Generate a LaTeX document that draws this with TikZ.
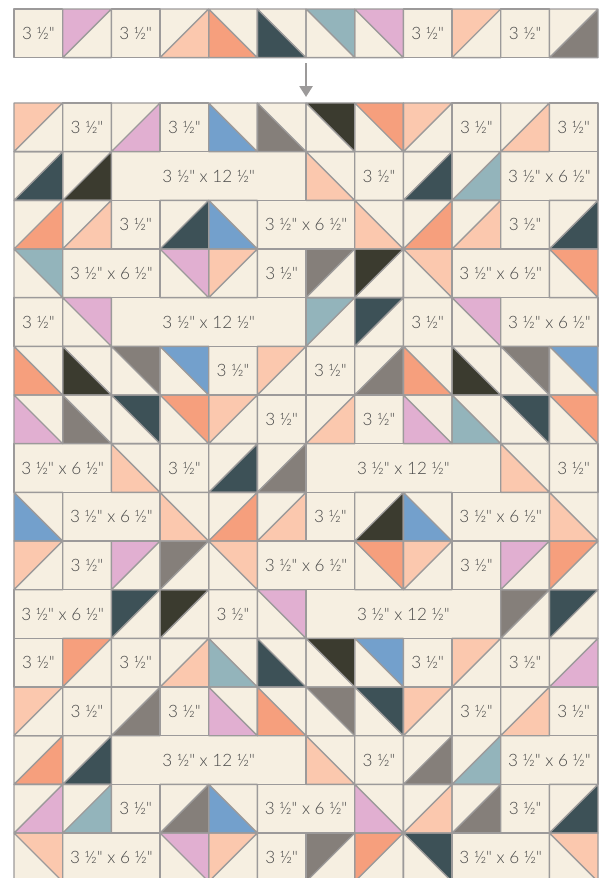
\documentclass[tikz,border=0pt]{standalone}
\usepackage{fontspec}
\newfontfamily\cutfont{Lato Light}
\usetikzlibrary{arrows.meta}

\definecolor{cream}{HTML}{F6EFE1}
\definecolor{peach}{HTML}{FBC8AE}
\definecolor{salmon}{HTML}{F69F7D}
\definecolor{pink}{HTML}{E1AFD1}
\definecolor{blue}{HTML}{73A0CC}
\definecolor{teal}{HTML}{93B4BB}
\definecolor{slate}{HTML}{3D5157}
\definecolor{olive}{HTML}{3B3B2F}
\definecolor{stone}{HTML}{857F7A}
\definecolor{seamgray}{HTML}{9C9A9A}
\definecolor{inkgray}{HTML}{4A4A4A}

\newcommand{\hstfills}[1]{%
  \foreach \cx/\ry/\k/\hue in #1 {
    \tikzset{corner \k}
    \fill[\hue] ({\cx+\qx},{\ry+\qy}) -- ({\cx+1-\qx},{\ry+\qy}) -- ({\cx+\qx},{\ry+1-\qy}) -- cycle;
  }}
\newcommand{\hstseams}[1]{%
  \foreach \cx/\ry/\k/\hue in #1 {
    \tikzset{corner \k}
    \draw[seam] (\cx,\ry) rectangle ++(1,1) ({\cx+1-\qx},{\ry+\qy}) -- ({\cx+\qx},{\ry+1-\qy});
  }}
\newcommand{\cutblocks}[4]{%
  \foreach \cx/\ry in #1 {
    \draw[seam] (\cx,\ry) rectangle ++(#2,1);
    \node[cutsize] (#4-\cx-\ry) at ({\cx+#2/2},{\ry+.5}) {#3};
  }}

\newcommand{\striptris}{1/0/tl/pink, 3/0/br/peach, 4/0/bl/salmon, 5/0/bl/slate, 6/0/tr/teal, 7/0/tr/pink, 9/0/tl/peach, 11/0/br/stone}
\newcommand{\stripone}{0/0, 2/0, 8/0, 10/0}

\newcommand{\gridtris}{%
  0/0/tl/peach, 2/0/br/pink, 4/0/bl/blue, 5/0/bl/stone, 6/0/tr/olive, 7/0/tr/salmon, 8/0/tl/peach, 10/0/br/peach,
  0/1/br/slate, 1/1/br/olive, 6/1/bl/peach, 8/1/br/slate, 9/1/br/teal,
  0/2/br/salmon, 1/2/br/peach, 3/2/br/slate, 4/2/bl/blue, 7/2/bl/peach, 8/2/br/salmon, 9/2/br/peach, 11/2/br/slate,
  0/3/tr/teal, 3/3/tr/pink, 4/3/tl/peach, 6/3/tl/stone, 7/3/tl/olive, 8/3/tr/peach, 11/3/tr/salmon,
  1/4/tr/pink, 6/4/tl/teal, 7/4/tl/slate, 9/4/tr/pink,
  0/5/bl/salmon, 1/5/bl/olive, 2/5/tr/stone, 3/5/tr/blue, 5/5/tl/peach, 7/5/br/stone, 8/5/bl/salmon, 9/5/bl/olive, 10/5/tr/stone, 11/5/tr/blue,
  0/6/bl/pink, 1/6/bl/stone, 2/6/tr/slate, 3/6/tr/salmon, 4/6/tl/peach, 6/6/br/peach, 8/6/bl/pink, 9/6/bl/teal, 10/6/tr/slate, 11/6/tr/salmon,
  2/7/bl/peach, 4/7/br/slate, 5/7/br/stone, 10/7/bl/peach,
  0/8/bl/blue, 3/8/bl/peach, 4/8/br/salmon, 5/8/br/peach, 7/8/br/olive, 8/8/bl/blue, 11/8/bl/peach,
  0/9/tl/peach, 2/9/tl/pink, 3/9/tl/stone, 4/9/tr/peach, 7/9/tr/salmon, 8/9/tl/peach, 10/9/tl/pink, 11/9/tl/salmon,
  2/10/tl/slate, 3/10/tl/olive, 5/10/tr/pink, 10/10/tl/stone, 11/10/tl/slate,
  1/11/tl/salmon, 3/11/br/peach, 4/11/bl/teal, 5/11/bl/slate, 6/11/tr/olive, 7/11/tr/blue, 9/11/tl/peach, 11/11/br/pink,
  0/12/tl/peach, 2/12/br/stone, 4/12/bl/pink, 5/12/bl/salmon, 6/12/tr/stone, 7/12/tr/slate, 8/12/tl/peach, 10/12/br/peach,
  0/13/br/salmon, 1/13/br/slate, 6/13/bl/peach, 8/13/br/stone, 9/13/br/teal,
  0/14/br/pink, 1/14/br/teal, 3/14/br/stone, 4/14/bl/blue, 7/14/bl/pink, 8/14/br/peach, 9/14/br/stone, 11/14/br/slate,
  0/15/tr/peach, 3/15/tr/pink, 4/15/tl/peach, 6/15/tl/stone, 7/15/tl/salmon, 8/15/tr/slate, 11/15/tr/peach}
\newcommand{\gridone}{1/0, 3/0, 9/0, 11/0, 7/1, 2/2, 10/2, 5/3, 0/4, 8/4, 4/5, 6/5, 5/6, 7/6, 3/7, 11/7, 6/8, 1/9, 9/9, 4/10, 0/11, 2/11, 8/11, 10/11, 1/12, 3/12, 9/12, 11/12, 7/13, 2/14, 10/14, 5/15}
\newcommand{\gridtwo}{10/1, 5/2, 1/3, 9/3, 10/4, 0/7, 1/8, 9/8, 5/9, 0/10, 10/13, 5/14, 1/15, 9/15}
\newcommand{\gridfour}{2/1, 2/4, 6/7, 6/10, 2/13}

\begin{document}
\begin{tikzpicture}[
    x=1cm, y=-1cm,
    seam/.style={draw=seamgray, line width=0.8pt, line join=round},
    cutsize/.style={font=\cutfont\fontsize{10}{12}\selectfont, text=inkgray, inner sep=0pt},
    flow/.style={-{Triangle[width=0.27cm, length=0.22cm]}, line width=0.9pt, draw=seamgray},
    corner tl/.code={\def\qx{0}\def\qy{0}},
    corner tr/.code={\def\qx{1}\def\qy{0}},
    corner bl/.code={\def\qx{0}\def\qy{1}},
    corner br/.code={\def\qx{1}\def\qy{1}}
]
    \useasboundingbox (0,0) rectangle (12.328,18.04);
    \clip (0,0) rectangle (12.328,18.04);

    \begin{scope}[shift={(0.288,0.185)}]
        \fill[cream] (0,0) rectangle (12,1);
        \hstfills{\striptris}
        \hstseams{\striptris}
        \cutblocks{\stripone}{1}{3 ½"}{strip}
        \coordinate (strip-s) at (6,1.11);
    \end{scope}

    \begin{scope}[shift={(0.288,2.116)}]
        \fill[cream] (0,0) rectangle (12,16);
        \hstfills{\gridtris}
        \hstseams{\gridtris}
        \cutblocks{\gridone}{1}{3 ½"}{one}
        \cutblocks{\gridtwo}{2}{3 ½" x 6 ½"}{two}
        \cutblocks{\gridfour}{4}{3 ½" x 12 ½"}{four}
        \coordinate (grid-n) at (6,-0.125);
    \end{scope}

    \draw[flow] (strip-s) -- (grid-n);
\end{tikzpicture}
\end{document}
